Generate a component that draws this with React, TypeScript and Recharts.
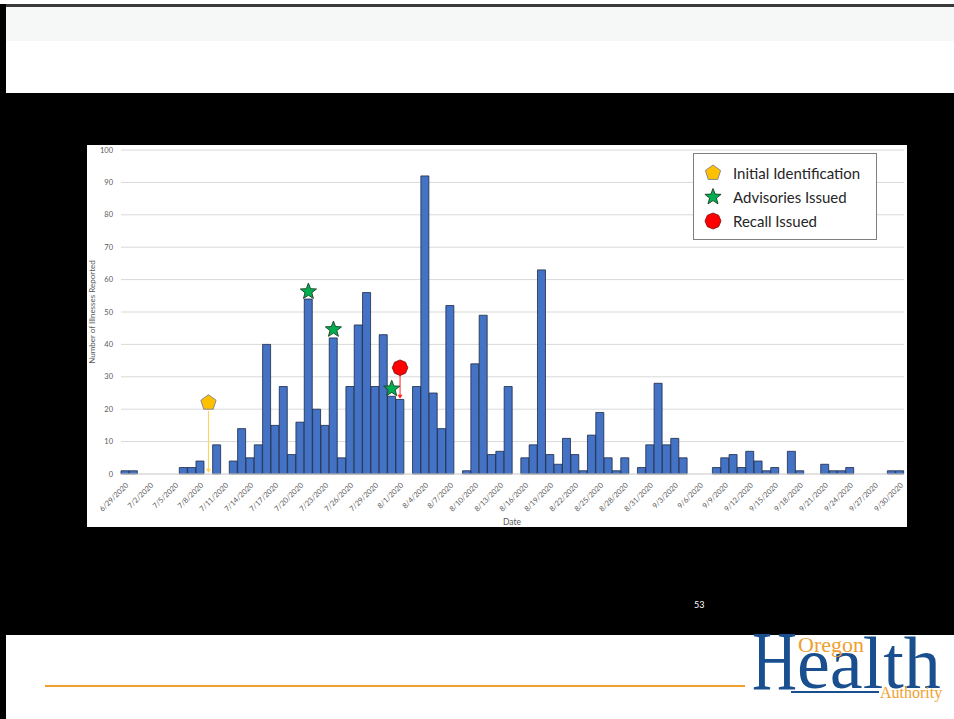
import { Bar, CartesianGrid, ComposedChart, ReferenceDot, ReferenceLine, XAxis, YAxis } from 'recharts'

// one bar per day, 6/29/2020 .. 9/30/2020
const DATES = [
  '6/29/2020', '6/30/2020',
  '7/1/2020', '7/2/2020', '7/3/2020', '7/4/2020', '7/5/2020', '7/6/2020', '7/7/2020', '7/8/2020',
  '7/9/2020', '7/10/2020', '7/11/2020', '7/12/2020', '7/13/2020', '7/14/2020', '7/15/2020', '7/16/2020',
  '7/17/2020', '7/18/2020', '7/19/2020', '7/20/2020', '7/21/2020', '7/22/2020', '7/23/2020', '7/24/2020',
  '7/25/2020', '7/26/2020', '7/27/2020', '7/28/2020', '7/29/2020', '7/30/2020', '7/31/2020',
  '8/1/2020', '8/2/2020', '8/3/2020', '8/4/2020', '8/5/2020', '8/6/2020', '8/7/2020', '8/8/2020',
  '8/9/2020', '8/10/2020', '8/11/2020', '8/12/2020', '8/13/2020', '8/14/2020', '8/15/2020', '8/16/2020',
  '8/17/2020', '8/18/2020', '8/19/2020', '8/20/2020', '8/21/2020', '8/22/2020', '8/23/2020', '8/24/2020',
  '8/25/2020', '8/26/2020', '8/27/2020', '8/28/2020', '8/29/2020', '8/30/2020', '8/31/2020',
  '9/1/2020', '9/2/2020', '9/3/2020', '9/4/2020', '9/5/2020', '9/6/2020', '9/7/2020', '9/8/2020',
  '9/9/2020', '9/10/2020', '9/11/2020', '9/12/2020', '9/13/2020', '9/14/2020', '9/15/2020', '9/16/2020',
  '9/17/2020', '9/18/2020', '9/19/2020', '9/20/2020', '9/21/2020', '9/22/2020', '9/23/2020', '9/24/2020',
  '9/25/2020', '9/26/2020', '9/27/2020', '9/28/2020', '9/29/2020', '9/30/2020',
]

const ILLNESSES = [
  1, 1,
  0, 0, 0, 0, 0, 2, 2, 4, 0, 9, 0, 4, 14, 5, 9, 40, 15, 27, 6, 16, 54, 20, 15, 42, 5, 27, 46, 56, 27, 43, 24,
  23, 0, 27, 92, 25, 14, 52, 0, 1, 34, 49, 6, 7, 27, 0, 5, 9, 63, 6, 3, 11, 6, 1, 12, 19, 5, 1, 5, 0, 2, 9,
  28, 9, 11, 5, 0, 0, 0, 2, 5, 6, 2, 7, 4, 1, 2, 0, 7, 1, 0, 0, 3, 1, 1, 2, 0, 0, 0, 0, 1, 1,
]

const Y_TICKS = [0, 10, 20, 30, 40, 50, 60, 70, 80, 90, 100]

// event markers: marker centre (y) and where the pointer ends (to)
const INITIAL_ID = { date: '7/9/2020', y: 22, to: 0.4 }
const ADVISORIES = [
  { date: '7/21/2020', y: 56.3 },
  { date: '7/24/2020', y: 44.6 },
  { date: '7/31/2020', y: 26.3 },
]
const RECALL = { date: '8/1/2020', y: 32.8, to: 23.2 }

const LEGEND = ['Initial Identification', 'Advisories Issued', 'Recall Issued']

const rows = DATES.map((date, i) => ({ date, count: ILLNESSES[i] }))

const AXIS_GREY = '#595959'
const BAR_BLUE = '#4472C4'
const OHA_BLUE = '#1a4f8f'
const OHA_ORANGE = '#F0A030'
const SERIF = '"Liberation Serif", serif'

function polygon(cx: number, cy: number, n: number, R: number, r?: number) {
  const pts: string[] = []
  const steps = r ? n * 2 : n
  for (let k = 0; k < steps; k++) {
    const rad = r && k % 2 ? r : R
    const a = -Math.PI / 2 + (k * 2 * Math.PI) / steps
    pts.push(`${(cx + rad * Math.cos(a)).toFixed(2)},${(cy + rad * Math.sin(a)).toFixed(2)}`)
  }
  return pts.join(' ')
}

const Pentagon = ({ cx, cy }: any) => (
  <polygon points={polygon(cx, cy, 5, 8)} fill="#FFC000" stroke="#8a8a8a" strokeWidth={1} />
)
const Star = ({ cx, cy }: any) => (
  <polygon points={polygon(cx, cy, 5, 8.5, 3.6)} fill="#00B050" stroke="#1d3b22" strokeWidth={0.9} />
)
const RecallDot = ({ cx, cy }: any) => (
  <polygon points={polygon(cx, cy, 8, 7.8)} fill="#FF0000" stroke="#7a1010" strokeWidth={0.8} />
)

// thin pointer line with a small arrow head at its lower end
function Pointer({ x1, y1, x2, y2, color }: any) {
  if ([x1, y1, x2, y2].some((v) => typeof v !== 'number')) return null
  const top = Math.min(y1, y2)
  const bottom = Math.max(y1, y2)
  return (
    <g>
      <line x1={x1} y1={top} x2={x2} y2={bottom - 3} stroke={color} strokeWidth={1} />
      <polygon points={`${x2 - 2.5},${bottom - 4} ${x2 + 2.5},${bottom - 4} ${x2},${bottom}`} fill={color} />
    </g>
  )
}

function LegendBox() {
  const icons = [
    <polygon key="p" points={polygon(9, 9, 5, 8)} fill="#FFC000" stroke="#8a8a8a" />,
    <polygon key="s" points={polygon(9, 9, 5, 8.5, 3.6)} fill="#00B050" stroke="#1d3b22" strokeWidth={0.9} />,
    <polygon key="r" points={polygon(9, 9, 8, 8)} fill="#FF0000" stroke="#7a1010" strokeWidth={0.8} />,
  ]
  return (
    <div
      style={{
        position: 'absolute',
        left: 693,
        top: 153,
        width: 184,
        height: 87,
        border: '1px solid #7f7f7f',
        background: '#fff',
        boxSizing: 'border-box',
        fontFamily: 'Lato, sans-serif',
        fontSize: 15,
        color: '#262626',
      }}
    >
      {LEGEND.map((label, i) => (
        <div key={label} style={{ position: 'absolute', left: 10, top: 10 + i * 24, display: 'flex', alignItems: 'center', gap: 11 }}>
          <svg width={18} height={18}>{icons[i]}</svg>
          <span style={{ lineHeight: '18px' }}>{label}</span>
        </div>
      ))}
    </div>
  )
}

// text placed by its baseline, with a tight box
function Word({ text, left, baseline, size, color, scaleX = 1 }: any) {
  return (
    <div
      style={{
        position: 'absolute',
        left,
        top: baseline - size * 0.72,
        height: size * 0.72,
        fontFamily: SERIF,
        fontSize: size,
        lineHeight: `${size * 0.72}px`,
        color,
        whiteSpace: 'nowrap',
        transform: `scaleX(${scaleX})`,
        transformOrigin: 'left bottom',
      }}
    >
      <span style={{ display: 'inline-block', verticalAlign: 'baseline' }}>{text}</span>
    </div>
  )
}

export default function App() {
  return (
    <div style={{ position: 'absolute', left: 0, top: 0, width: 954, height: 719, background: '#fff', overflow: 'hidden' }}>
      {/* slide frame and bands */}
      <div style={{ position: 'absolute', left: 0, top: 4, width: 954, height: 3, background: '#3a3a3a' }} />
      <div style={{ position: 'absolute', left: 0, top: 4, width: 6, height: 715, background: '#000' }} />
      <div style={{ position: 'absolute', left: 6, top: 7, width: 948, height: 34, background: '#f6f8f7' }} />
      <div style={{ position: 'absolute', left: 6, top: 93, width: 948, height: 542, background: '#000' }} />

      {/* chart panel */}
      <div style={{ position: 'absolute', left: 87, top: 145, width: 820, height: 382, background: '#fff' }}>
        <ComposedChart
          width={820}
          height={382}
          data={rows}
          margin={{ top: 5, right: 3, left: 0, bottom: 0 }}
          barCategoryGap={0}
          barGap={0}
          style={{ fontFamily: 'Lato, sans-serif' }}
        >
          <CartesianGrid vertical={false} stroke="#d9d9d9" />
          <XAxis
            dataKey="date"
            interval={2}
            height={53}
            tickLine={false}
            axisLine={{ stroke: '#d9d9d9' }}
            tick={{ fontSize: 7.5, fill: AXIS_GREY, angle: -45, textAnchor: 'end' }}
          />
          <YAxis
            domain={[0, 100]}
            ticks={Y_TICKS}
            width={34}
            tickLine={false}
            axisLine={false}
            tick={{ fontSize: 7.5, fill: AXIS_GREY }}
          />
          <Bar dataKey="count" fill={BAR_BLUE} stroke="#1c2a48" strokeWidth={0.8} isAnimationActive={false} />
          <ReferenceLine
            segment={[{ x: INITIAL_ID.date, y: INITIAL_ID.y - 2.5 }, { x: INITIAL_ID.date, y: INITIAL_ID.to }]}
            shape={(p: any) => <Pointer {...p} color="#FFD24D" />}
          />
          <ReferenceLine
            segment={[{ x: RECALL.date, y: RECALL.y - 2 }, { x: RECALL.date, y: RECALL.to }]}
            shape={(p: any) => <Pointer {...p} color="#FF2020" />}
          />
          <ReferenceDot x={INITIAL_ID.date} y={INITIAL_ID.y} shape={Pentagon} />
          {ADVISORIES.map((a) => (
            <ReferenceDot key={a.date} x={a.date} y={a.y} shape={Star} />
          ))}
          <ReferenceDot x={RECALL.date} y={RECALL.y} shape={RecallDot} />
        </ComposedChart>
        <div
          style={{
            position: 'absolute',
            left: 5,
            top: 167,
            fontFamily: 'Lato, sans-serif',
            fontSize: 8,
            color: AXIS_GREY,
            transform: 'translate(-50%, -50%) rotate(-90deg)',
            whiteSpace: 'nowrap',
          }}
        >
          Number of Illnesses Reported
        </div>
        <div
          style={{
            position: 'absolute',
            left: 425,
            top: 377,
            fontFamily: 'Lato, sans-serif',
            fontSize: 8.5,
            color: AXIS_GREY,
            transform: 'translate(-50%, -50%)',
          }}
        >
          Date
        </div>
      </div>

      <LegendBox />

      <div style={{ position: 'absolute', left: 694, top: 599, color: '#fff', fontFamily: 'Lato, sans-serif', fontSize: 9 }}>53</div>

      {/* footer rule and agency logo */}
      <div style={{ position: 'absolute', left: 45, top: 685, width: 700, height: 2, background: OHA_ORANGE }} />
      <div style={{ position: 'absolute', left: 791, top: 691, width: 88, height: 2, background: OHA_BLUE }} />
      <Word text="H" left={752} baseline={692} size={84} color={OHA_BLUE} scaleX={0.74} />
      <Word text="ealth" left={797} baseline={690} size={74} color={OHA_BLUE} />
      <Word text="Oregon" left={798} baseline={653} size={22} color={OHA_ORANGE} />
      <Word text="Authority" left={880} baseline={699} size={16} color={OHA_ORANGE} />
    </div>
  )
}
